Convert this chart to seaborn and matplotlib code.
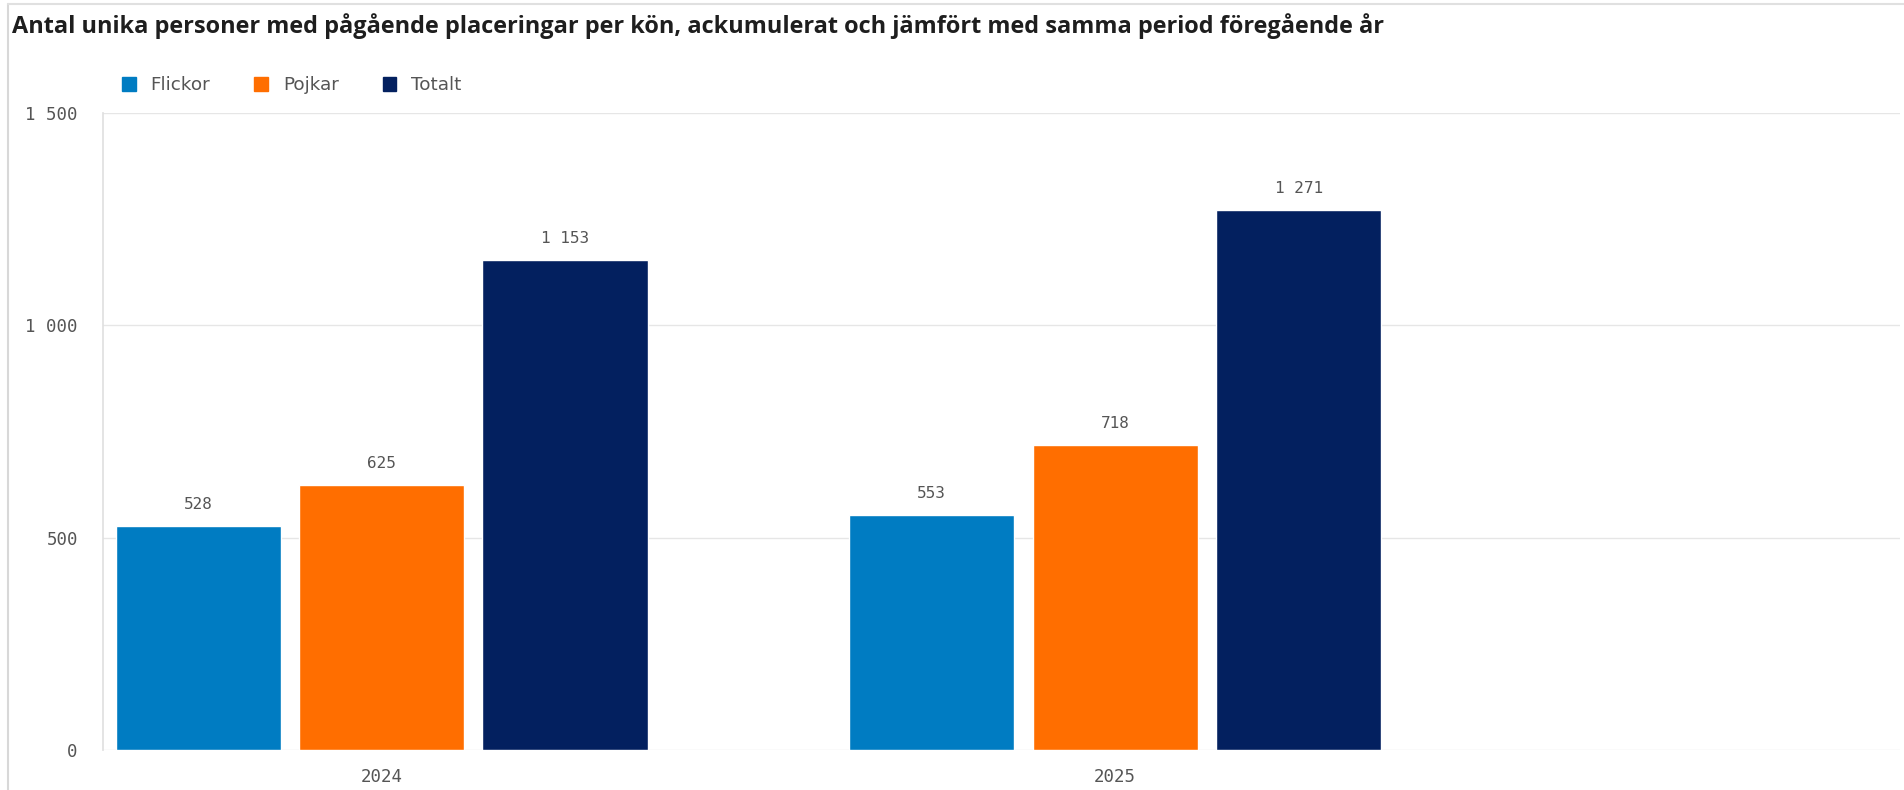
import matplotlib
matplotlib.use("Agg")
import matplotlib.pyplot as plt
import matplotlib.patches as mpatches
import pandas as pd
import seaborn as sns

# Data
years = ["2024", "2025"]
groups = ["Flickor", "Pojkar", "Totalt"]
flickor = [528, 553]
pojkar = [625, 718]
totalt = [1153, 1271]
yticks = [0, 500, 1000, 1500]

colors = {"Flickor": "#007CC2", "Pojkar": "#FF6E00", "Totalt": "#03205F"}


def fmt(v):
    return f"{int(v):,}".replace(",", " ")


df = pd.DataFrame({
    "year": years * 3,
    "group": [g for g in groups for _ in years],
    "value": flickor + pojkar + totalt,
})

sns.set_theme(style="white")
plt.rcParams["font.family"] = ["DejaVu Sans"]

fig = plt.figure(figsize=(19.04, 7.9), dpi=100)
ax = fig.add_axes([0.054, 0.0506, 0.944, 0.8064])

sns.barplot(data=df, x="year", y="value", hue="group", order=years,
            hue_order=groups, palette=colors, width=0.75, gap=0.1,
            saturation=1, ax=ax, legend=False)

# value labels
for cont in ax.containers:
    ax.bar_label(cont, labels=[fmt(v) for v in cont.datavalues], padding=10,
                 fontsize=11.5, color="#555555", family="DejaVu Sans Mono")

ax.set_xlim(-0.38, 2.07)
ax.set_ylim(0, 1500)
ax.set_yticks(yticks)
ax.set_yticklabels([fmt(v) for v in yticks], family="DejaVu Sans Mono",
                   fontsize=12.5, color="#555555")
ax.set_xticklabels(years, family="DejaVu Sans Mono", fontsize=12.5, color="#555555")
ax.set_xlabel("")
ax.set_ylabel("")

ax.grid(axis="y", color="#E6E6E6", linewidth=1)
ax.set_axisbelow(True)
for s in ["top", "right", "bottom"]:
    ax.spines[s].set_visible(False)
ax.spines["left"].set_color("#E0E0E0")
ax.tick_params(axis="y", length=14, color="#E6E6E6", pad=4)
ax.tick_params(axis="x", length=0, pad=13)

# title
fig.text(0.0063, 0.967, "Antal unika personer med pågående placeringar per kön, "
         "ackumulerat och jämfört med samma period föregående år",
         fontsize=16.9, fontweight="bold", color="#1E1E1E", va="center",
         family="Open Sans")

# legend
handles = [mpatches.Patch(color=colors[g], label=g) for g in groups]
fig.legend(handles=handles, loc="center left", bbox_to_anchor=(0.0555, 0.892),
           ncol=3, frameon=False, fontsize=13.2, handlelength=0.75,
           handleheight=0.75, handletextpad=0.8, columnspacing=2.4,
           labelcolor="#555555")

# outer frame
fig.add_artist(plt.Line2D([0.004, 0.004], [0, 0.995], color="#D8D8D8",
                          linewidth=1.5, transform=fig.transFigure))
fig.add_artist(plt.Line2D([0.004, 1], [0.995, 0.995], color="#E0E0E0",
                          linewidth=1.5, transform=fig.transFigure))

fig.savefig("out.png", dpi=100)
